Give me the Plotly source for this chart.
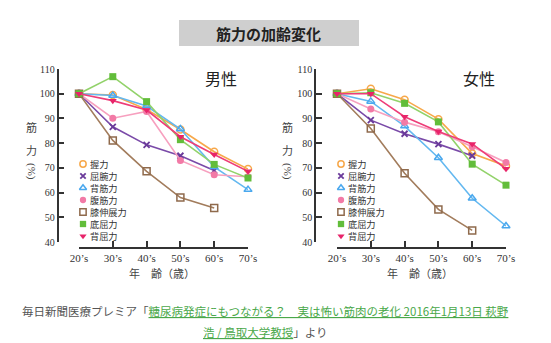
import plotly.graph_objects as go

W, H = 551, 343

ages = ["20’s", "30’s", "40’s", "50’s", "60’s", "70’s"]

measures = ["握力", "屈腕力", "背筋力", "腹筋力", "膝伸展力", "底屈力", "背屈力"]

male = {
    "握力":   [100, 99.5, 93.6, 85.5, 76.5, 69.5],
    "屈腕力": [100, 86.6, 79.3, 74.9, 68.9],
    "背筋力": [100, 99.3, 95.0, 85.7, 70.4, 61.2],
    "腹筋力": [100, 90.1, 92.8, 73.0, 67.2, 66.4],
    "膝伸展力": [100, 81.1, 68.6, 58.0, 53.8],
    "底屈力": [100, 106.9, 96.8, 81.4, 71.4, 65.9],
    "背屈力": [100, 97.2, 93.4, 82.6, 75.4, 68.6],
}

female = {
    "握力":   [100, 102.0, 97.6, 89.7, 75.8, 70.8],
    "屈腕力": [100, 89.3, 83.8, 79.6, 74.9],
    "背筋力": [100, 96.9, 86.9, 74.1, 57.7, 46.5],
    "腹筋力": [100, 93.8, 88.5, 84.6, 78.5, 72.2],
    "膝伸展力": [100, 85.9, 67.8, 53.2, 44.7],
    "底屈力": [100, 100.4, 96.1, 88.6, 71.5, 63.0],
    "背屈力": [100, 100.0, 90.7, 84.7, 79.7, 69.6],
}

y_ticks = [40, 50, 60, 70, 80, 90, 100, 110]

styles = {
    "握力":   dict(line="#f7a84a", marker="#f7a84a", symbol="circle-open"),
    "屈腕力": dict(line="#7a4aa8", marker="#6a3a9a", symbol="x-thin-open"),
    "背筋力": dict(line="#63b8f0", marker="#4aa8ee", symbol="triangle-up-open"),
    "腹筋力": dict(line="#f7a0bf", marker="#f27aa6", symbol="circle"),
    "膝伸展力": dict(line="#a27c5c", marker="#8f6a4c", symbol="square-open"),
    "底屈力": dict(line="#92d26a", marker="#62bd3a", symbol="square"),
    "背屈力": dict(line="#ee3d78", marker="#e8246a", symbol="triangle-down"),
}

SERIF = "Liberation Serif"
JP = "Noto Sans CJK JP"


def px_x(x):
    return x / W


def px_y(y):
    return 1 - y / H


def marker_style(st, scale=1.0):
    is_x = st["symbol"].startswith("x")
    is_open = st["symbol"].endswith("open")
    return dict(symbol=st["symbol"], size=(6 if is_x else 7) * scale, color=st["marker"],
                line=dict(color=st["marker"], width=1.8 if is_x else (1.5 if is_open else 0)))


def note(text, x, y, size=11, color="#444", family=JP, xanchor="center", **kw):
    return dict(text=text, xref="paper", yref="paper", x=px_x(x), y=px_y(y),
                xanchor=xanchor, yanchor="middle", showarrow=False,
                font=dict(family=family, size=size, color=color), **kw)


fig = go.Figure()

panels = [
    ("x", "y", male, 79, 248, 57.5, "男性", 221),
    ("x2", "y2", female, 337, 506, 315, "女性", 479),
]

for xa, ya, data, x0, x1, yline, label, lx in panels:
    for m in measures:
        vals = data[m]
        st = styles[m]
        fig.add_trace(go.Scatter(
            x=list(range(len(vals))), y=vals, xaxis=xa, yaxis=ya,
            mode="lines+markers", cliponaxis=False, showlegend=False,
            line=dict(color=st["line"], width=1.6),
            marker=marker_style(st),
        ))

axis_common = dict(showgrid=False, zeroline=False, showline=True, automargin=False,
                   linecolor="#333", linewidth=1.5, ticks="inside",
                   tickcolor="#333", tickwidth=1.5, ticklen=6,
                   tickfont=dict(family=SERIF, size=11, color="#333"))

layout = dict(width=W, height=H, margin=dict(l=0, r=0, t=0, b=0),
              paper_bgcolor="white", plot_bgcolor="rgba(0,0,0,0)", showlegend=False)

for i, (xa, ya, data, x0, x1, yline, label, lx) in enumerate(panels):
    xk = "xaxis" if i == 0 else "xaxis2"
    yk = "yaxis" if i == 0 else "yaxis2"
    layout[xk] = dict(axis_common, domain=[px_x(x0), px_x(x1)], range=[0, 5],
                      anchor="free", position=px_y(248),
                      tickvals=list(range(len(ages))), ticktext=ages)
    layout[yk] = dict(axis_common, domain=[px_y(242), px_y(69)], range=[40, 110],
                      anchor="free", position=px_x(yline),
                      tickvals=y_ticks,
                      tickfont=dict(family=SERIF, size=10, color="#333"))

# legend key axes spanning the page in pixel units
layout["xaxis3"] = dict(domain=[0, 1], range=[0, W], visible=False, fixedrange=True,
                        automargin=False, anchor="y3")
layout["yaxis3"] = dict(domain=[0, 1], range=[H, 0], visible=False, fixedrange=True,
                        automargin=False, anchor="x3")

fig.update_layout(**layout)

annotations = []
shapes = []

# title banner
shapes.append(dict(type="rect", xref="paper", yref="paper",
                   x0=px_x(179), x1=px_x(359), y0=px_y(46), y1=px_y(20),
                   fillcolor="#cfcfcf", line=dict(width=0), layer="below"))
annotations.append(note("<b>筋力の加齢変化</b>", 268, 33, size=15, color="#222"))

row_gap = 12
for i, (xa, ya, data, x0, x1, yline, label, lx) in enumerate(panels):
    annotations.append(note(label, lx, 78, size=16, color="#222"))
    # vertical axis title
    tx = 31 if i == 0 else 287
    annotations.append(note("筋", tx, 127))
    annotations.append(note("力", tx, 150))
    annotations.append(note("(%)", tx, 171, family=SERIF, textangle=90))
    # x axis title
    annotations.append(note("年　齢（歳）", (x0 + x1) / 2 - 2, 273))
    # legend keys
    kx = 83 if i == 0 else 341
    for j, m in enumerate(measures):
        st = styles[m]
        ky = 164 + row_gap * j
        fig.add_trace(go.Scatter(
            x=[kx], y=[ky], xaxis="x3", yaxis="y3", mode="markers",
            showlegend=False, hoverinfo="skip", marker=marker_style(st, 0.9),
        ))
        annotations.append(note(m, kx + 5, ky, size=9.2, color="#333", xanchor="left"))

# source caption
link1 = "糖尿病発症にもつながる？　実は怖い筋肉の老化 2016年1月13日 萩野"
link2 = "浩 / 鳥取大学教授"
ul = "color:#4aa84a;text-decoration:underline"
annotations.append(note(f"毎日新聞医療プレミア「<span style='{ul}'>{link1}</span>",
                        265, 311, size=11.5, color="#555"))
annotations.append(note(f"<span style='{ul}'>{link2}</span>」より",
                        265, 332, size=11.5, color="#555"))

fig.update_layout(annotations=annotations, shapes=shapes)

fig.write_html("out.html")
